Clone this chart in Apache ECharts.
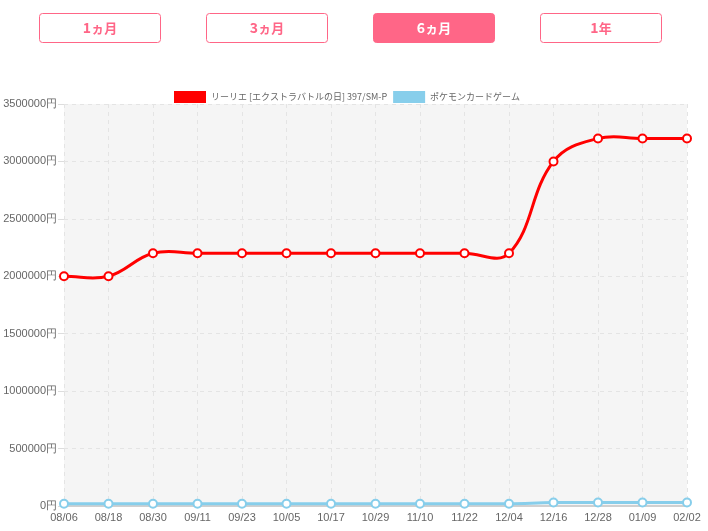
<!DOCTYPE html>
<html><head><meta charset="utf-8">
<script src="https://cdn.jsdelivr.net/npm/echarts@6/dist/echarts.min.js"></script>
<style>html,body{margin:0;padding:0;background:#fff}#c{width:708px;height:531px}</style>
</head><body><div id="c"></div>
<script>
const categories = ["08/06","08/18","08/30","09/11","09/23","10/05","10/17","10/29","11/10","11/22","12/04","12/16","12/28","01/09","02/02"];
const lillieValues = [2000000,2000000,2200000,2200000,2200000,2200000,2200000,2200000,2200000,2200000,2200000,3000000,3200000,3200000,3200000];
const boxValues = [20000,20000,20000,20000,20000,20000,20000,20000,20000,20000,20000,30000,30000,30000,30000];
const seriesNames = ["リーリエ [エクストラバトルの日] 397/SM-P","ポケモンカードゲーム"];
const seriesColors = ['#ff0000','#87ceeb'];
const buttonLabels = [["1","ヵ月"],["3","ヵ月"],["6","ヵ月"],["1","年"]];
const activeButton = 2;

const chart = echarts.init(document.getElementById('c'), null, {renderer:'canvas'});
const pink = '#ff6687';
const btnX = [39, 206, 373, 540];
const graphics = [];
buttonLabels.forEach((b,i)=>{
  const active = i===activeButton;
  graphics.push({type:'rect', x:btnX[i]+0.5, y:13.5, shape:{width:121,height:29,r:3},
    style:{fill: active? pink:'#fff', stroke: pink, lineWidth:1}});
  graphics.push({type:'text', x:btnX[i]+61, y:28, style:{
    text:'{n|'+b[0]+'}{s|'+b[1]+'}', align:'center', verticalAlign:'middle',
    rich:{n:{fontSize:14,fontWeight:'bold',fill:active?'#fff':pink,fontFamily:'Noto Sans CJK JP'},
          s:{fontSize:13,fontWeight:'bold',fill:active?'#fff':pink,fontFamily:'Noto Sans CJK JP'}}
  }});
});

// Chart.js-style spline (tension 0.4) drawn through the chart's own scales
function splineSeries(values, color, name){
  return {
    name: name+'__curve', type:'custom', z:2, silent:true,
    data: values.map((v,i)=>[i,v]),
    renderItem: function(params, api){
      const i = params.dataIndex;
      if (i >= values.length-1) return null;
      const P = k => api.coord([k, values[k]]);
      const t = 0.4;
      function cps(k){
        const cur = P(k);
        const prev = k>0 ? P(k-1) : cur;
        const next = k<values.length-1 ? P(k+1) : cur;
        const d01 = Math.hypot(cur[0]-prev[0], cur[1]-prev[1]);
        const d12 = Math.hypot(next[0]-cur[0], next[1]-cur[1]);
        let s01 = d01/(d01+d12), s12 = d12/(d01+d12);
        if (isNaN(s01)) s01 = 0; if (isNaN(s12)) s12 = 0;
        const fa = t*s01, fb = t*s12;
        return {
          cur,
          prev:[cur[0]-fa*(next[0]-prev[0]), cur[1]-fa*(next[1]-prev[1])],
          next:[cur[0]+fb*(next[0]-prev[0]), cur[1]+fb*(next[1]-prev[1])]
        };
      }
      const a = cps(i), b = cps(i+1);
      return {type:'bezierCurve', shape:{
        x1:a.cur[0], y1:a.cur[1], x2:b.cur[0], y2:b.cur[1],
        cpx1:a.next[0], cpy1:a.next[1], cpx2:b.prev[0], cpy2:b.prev[1]},
        style:{stroke:color, lineWidth:3, fill:null, lineCap:'round'}};
    }
  };
}

chart.setOption({
  animation:false,
  textStyle:{fontFamily:'Noto Sans CJK JP'},
  graphic: graphics,
  legend:{top:86, left:169, itemWidth:32, itemHeight:12, itemGap:6,
    icon:'rect', textStyle:{fontSize:9,color:'#666',fontFamily:'Noto Sans CJK JP'},
    data: seriesNames.map((n,i)=>({name:n, itemStyle:{color:seriesColors[i], borderWidth:0}}))},
  grid:{left:64, right:21, top:104, bottom:25, show:true, backgroundColor:'#f5f5f5', borderWidth:0},
  xAxis:{type:'category', data:categories, boundaryGap:false,
    axisLine:{show:true, lineStyle:{color:'#d0d0d0', width:2}},
    axisTick:{show:false},
    axisLabel:{color:'#666', fontSize:11, margin:6, fontFamily:'Arial'},
    splitLine:{show:true, lineStyle:{type:[4,4], color:'#e4e4e4'}}},
  yAxis:{type:'value', min:0, max:3500000, interval:500000,
    axisLine:{show:false},
    axisTick:{show:true, length:6, lineStyle:{color:'#ddd'}},
    axisLabel:{color:'#666', fontSize:11, margin:7, formatter:v=>v+'円', fontFamily:'Arial'},
    splitLine:{show:true, lineStyle:{type:[4,4], color:'#e4e4e4'}}},
  series:[
    splineSeries(lillieValues, seriesColors[0], seriesNames[0]),
    splineSeries(boxValues, seriesColors[1], seriesNames[1]),
    {name:seriesNames[0], type:'line', data:lillieValues, color:seriesColors[0],
      lineStyle:{width:0, opacity:0}, symbol:'circle', symbolSize:8,
      itemStyle:{color:'#fff', borderColor:seriesColors[0], borderWidth:2}, z:3},
    {name:seriesNames[1], type:'line', data:boxValues, color:seriesColors[1],
      lineStyle:{width:0, opacity:0}, symbol:'circle', symbolSize:8,
      itemStyle:{color:'#fff', borderColor:seriesColors[1], borderWidth:2}, z:3}
  ]
});
</script></body></html>
